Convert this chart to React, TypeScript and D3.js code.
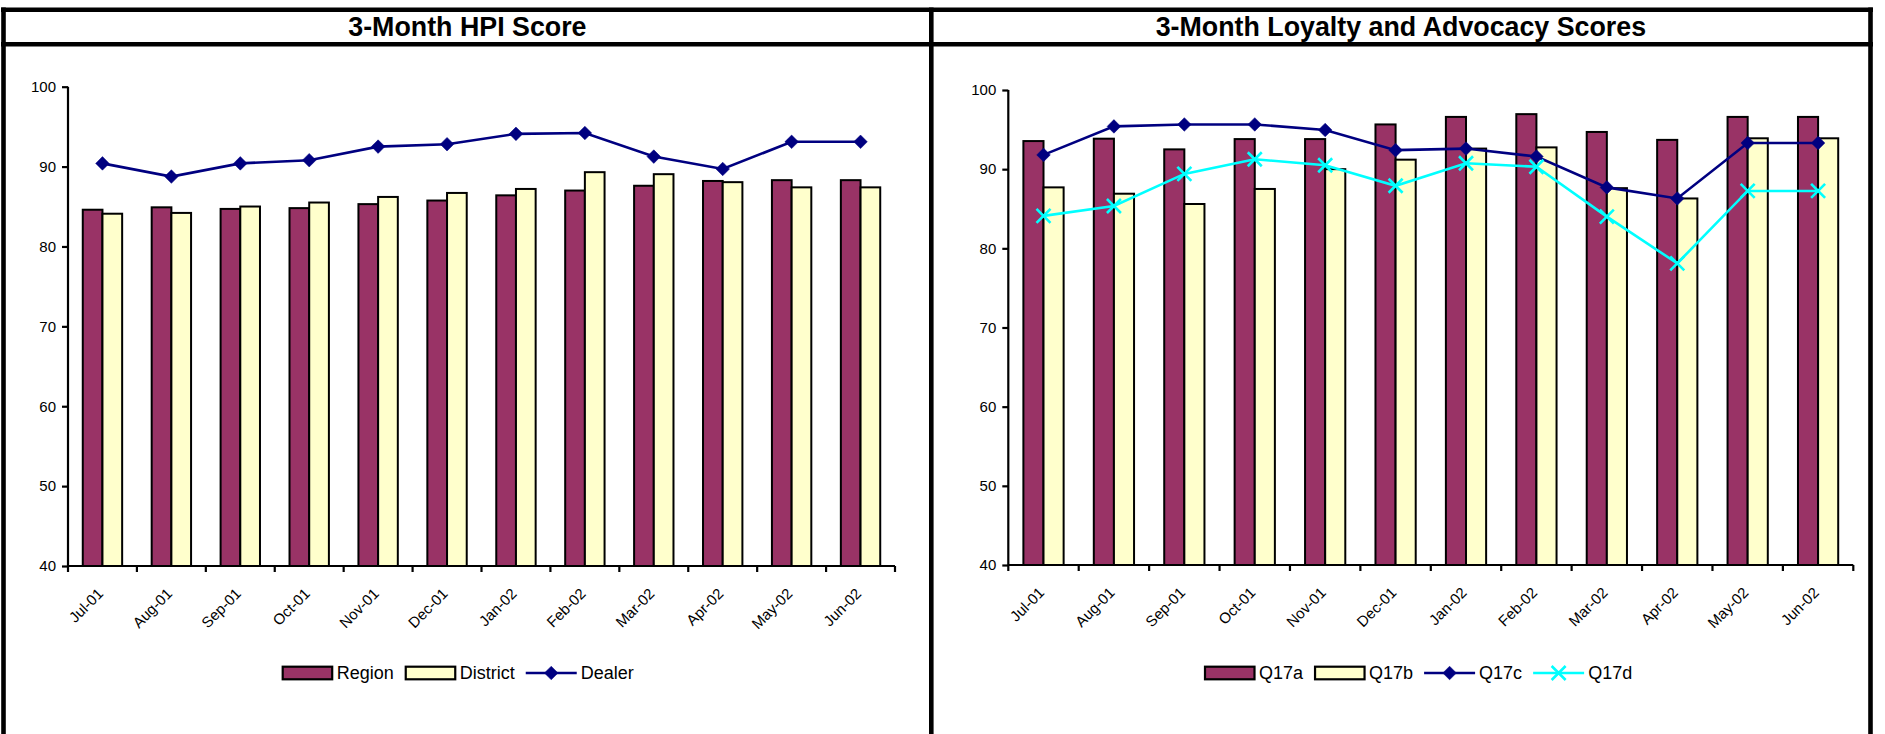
import * as d3 from 'd3';
import {useEffect, useRef} from 'react';

const months = ['Jul-01', 'Aug-01', 'Sep-01', 'Oct-01', 'Nov-01', 'Dec-01', 'Jan-02', 'Feb-02', 'Mar-02', 'Apr-02', 'May-02', 'Jun-02'];
const yTicks = [40, 50, 60, 70, 80, 90, 100];

// HPI chart
const region = [84.6, 84.9, 84.7, 84.8, 85.3, 85.75, 86.4, 87.0, 87.6, 88.2, 88.3, 88.3];
const district = [84.1, 84.2, 85.0, 85.5, 86.2, 86.7, 87.2, 89.3, 89.05, 88.05, 87.4, 87.4];
const dealer = [90.4, 88.75, 90.4, 90.8, 92.5, 92.8, 94.1, 94.2, 91.25, 89.7, 93.1, 93.1];

// loyalty / advocacy chart
const q17a = [93.55, 93.85, 92.5, 93.8, 93.8, 95.65, 96.6, 96.95, 94.7, 93.7, 96.6, 96.6];
const q17b = [87.7, 86.9, 85.6, 87.5, 90.0, 91.2, 92.6, 92.75, 87.6, 86.3, 93.9, 93.9];
const q17c = [91.8, 95.4, 95.65, 95.65, 94.95, 92.4, 92.6, 91.6, 87.7, 86.3, 93.3, 93.3];
const q17d = [84.1, 85.35, 89.4, 91.25, 90.5, 87.9, 90.75, 90.3, 84.0, 78.1, 87.25, 87.25];

const FONT = '"Liberation Sans", Arial, Helvetica, sans-serif';
const PLUM = '#993366';
const CREAM = '#FFFFCC';
const NAVY = '#000080';
const CYAN = '#00FFFF';

type Series = {name: string; values: number[]; color: string; kind: 'bar' | 'diamond' | 'x'};

type Panel = {
	title: string;
	left: number;
	right: number;
	plot: {x0: number; x1: number; y0: number; y1: number};
	legendX: number;
	series: Series[];
};

const panels: Panel[] = [
	{
		title: '3-Month HPI Score',
		left: 3.5,
		right: 931.3,
		plot: {x0: 68, x1: 895, y0: 566, y1: 86.7},
		legendX: 281.7,
		series: [
			{name: 'Region', values: region, color: PLUM, kind: 'bar'},
			{name: 'District', values: district, color: CREAM, kind: 'bar'},
			{name: 'Dealer', values: dealer, color: NAVY, kind: 'diamond'},
		],
	},
	{
		title: '3-Month Loyalty and Advocacy Scores',
		left: 931.3,
		right: 1870.5,
		plot: {x0: 1008.3, x1: 1853.3, y0: 565, y1: 90},
		legendX: 1204,
		series: [
			{name: 'Q17a', values: q17a, color: PLUM, kind: 'bar'},
			{name: 'Q17b', values: q17b, color: CREAM, kind: 'bar'},
			{name: 'Q17c', values: q17c, color: NAVY, kind: 'diamond'},
			{name: 'Q17d', values: q17d, color: CYAN, kind: 'x'},
		],
	},
];

const diamond = (s: number) => `M0,${-s}L${s},0L0,${s}L${-s},0Z`;
const cross = (s: number) => `M${-s},${-s}L${s},${s}M${-s},${s}L${s},${-s}`;

const marker = (kind: Series['kind']) => (kind === 'diamond' ? diamond(6.8) : cross(7));

export default function App() {
	const svgRef = useRef<SVGSVGElement>(null);

	useEffect(() => {
		const svg = d3.select(svgRef.current);
		svg.selectAll('*').remove();

		// frame
		const frame = svg.append('g').attr('stroke', '#000').attr('stroke-width', 4.6).attr('fill', 'none');
		frame.append('line').attr('x1', 1).attr('x2', 1873).attr('y1', 9.7).attr('y2', 9.7);
		frame.append('line').attr('x1', 1).attr('x2', 1873).attr('y1', 44.2).attr('y2', 44.2);
		[3.5, 931.3, 1870.5].forEach((x) => {
			frame.append('line').attr('x1', x).attr('x2', x).attr('y1', 7.4).attr('y2', 740);
		});

		panels.forEach((p) => {
			const g = svg.append('g');
			g.append('text')
				.attr('x', (p.left + p.right) / 2)
				.attr('y', 36)
				.attr('text-anchor', 'middle')
				.style('font-family', FONT)
				.style('font-weight', 'bold')
				.style('font-size', '26.8px')
				.text(p.title);

			const {x0, x1, y0, y1} = p.plot;
			const x = d3.scaleBand<string>().domain(months).range([x0, x1]);
			const y = d3.scaleLinear().domain([40, 100]).range([y0, y1]);
			const bars = p.series.filter((s) => s.kind === 'bar');
			const lines = p.series.filter((s) => s.kind !== 'bar');
			const bw = x.bandwidth() / 3.5;
			const inner = d3
				.scaleBand<string>()
				.domain(bars.map((s) => s.name))
				.range([(x.bandwidth() - bw * bars.length) / 2, (x.bandwidth() + bw * bars.length) / 2]);

			// bars
			bars.forEach((s) => {
				g.append('g')
					.selectAll('rect')
					.data(s.values)
					.join('rect')
					.attr('x', (_, i) => x(months[i])! + inner(s.name)!)
					.attr('y', (d) => y(d))
					.attr('width', inner.bandwidth())
					.attr('height', (d) => y0 - y(d))
					.attr('fill', s.color)
					.attr('stroke', '#000')
					.attr('stroke-width', 2);
			});

			// axes
			const yAxis = g
				.append('g')
				.attr('transform', `translate(${x0},0)`)
				.call(d3.axisLeft(y).tickValues(yTicks).tickSize(6).tickPadding(6));
			yAxis.select('.domain').attr('d', `M-0,${y0}V${y1}`).attr('stroke', '#000').attr('stroke-width', 2.2);
			yAxis.selectAll('.tick line').attr('stroke', '#000').attr('stroke-width', 2.2);
			yAxis.selectAll('.tick text').style('font-family', FONT).style('font-size', '15px').attr('fill', '#000');

			const xAxis = g.append('g').attr('transform', `translate(0,${y0})`);
			xAxis
				.append('path')
				.attr('d', `M${x0},0H${x1}`)
				.attr('stroke', '#000')
				.attr('stroke-width', 2.2);
			// ticks on the band boundaries, excel style
			xAxis
				.selectAll('line.bt')
				.data(d3.range(months.length + 1))
				.join('line')
				.attr('class', 'bt')
				.attr('x1', (i) => x0 + i * x.step())
				.attr('x2', (i) => x0 + i * x.step())
				.attr('y1', 0)
				.attr('y2', 6)
				.attr('stroke', '#000')
				.attr('stroke-width', 2.2);

			g.append('g')
				.selectAll('text')
				.data(months)
				.join('text')
				.attr('transform', (d) => `translate(${x(d)! + x.bandwidth() / 2 - 2},${y0 + 25}) rotate(-45)`)
				.attr('text-anchor', 'end')
				.attr('dy', '0.35em')
				.style('font-family', FONT)
				.style('font-size', '15px')
				.text((d) => d);

			// lines
			lines.forEach((s) => {
				const pts = s.values.map((v, i) => [x(months[i])! + x.bandwidth() / 2, y(v)] as [number, number]);
				g.append('path')
					.attr('d', d3.line()(pts))
					.attr('fill', 'none')
					.attr('stroke', s.color)
					.attr('stroke-width', 2.6);
				g.append('g')
					.selectAll('path')
					.data(pts)
					.join('path')
					.attr('transform', (d) => `translate(${d[0]},${d[1]})`)
					.attr('d', marker(s.kind))
					.attr('fill', s.kind === 'diamond' ? s.color : 'none')
					.attr('stroke', s.color)
					.attr('stroke-width', s.kind === 'diamond' ? 0.5 : 2.6);
			});

			// legend
			const ly = 673;
			let lx = p.legendX;
			p.series.forEach((s) => {
				const lg = g.append('g');
				if (s.kind === 'bar') {
					lg.append('rect')
						.attr('x', lx + 1)
						.attr('y', ly - 6.3)
						.attr('width', 49.5)
						.attr('height', 12.6)
						.attr('fill', s.color)
						.attr('stroke', '#000')
						.attr('stroke-width', 2.2);
				} else {
					lg.append('line')
						.attr('x1', lx)
						.attr('x2', lx + 51)
						.attr('y1', ly)
						.attr('y2', ly)
						.attr('stroke', s.color)
						.attr('stroke-width', 2.6);
					lg.append('path')
						.attr('transform', `translate(${lx + 25.5},${ly})`)
						.attr('d', marker(s.kind))
						.attr('fill', s.kind === 'diamond' ? s.color : 'none')
						.attr('stroke', s.color)
						.attr('stroke-width', s.kind === 'diamond' ? 0.5 : 2.6);
				}
				const t = lg
					.append('text')
					.attr('x', lx + 55)
					.attr('y', ly)
					.attr('dy', '0.36em')
					.style('font-family', FONT)
					.style('font-size', '18px')
					.text(s.name);
				const w = (t.node() as SVGTextElement).getComputedTextLength();
				lx += 55 + w + 11;
			});
		});
	}, []);

	return (
		<svg
			ref={svgRef}
			width={1885}
			height={734}
			style={{position: 'absolute', left: 0, top: 0, background: '#fff'}}
		/>
	);
}
